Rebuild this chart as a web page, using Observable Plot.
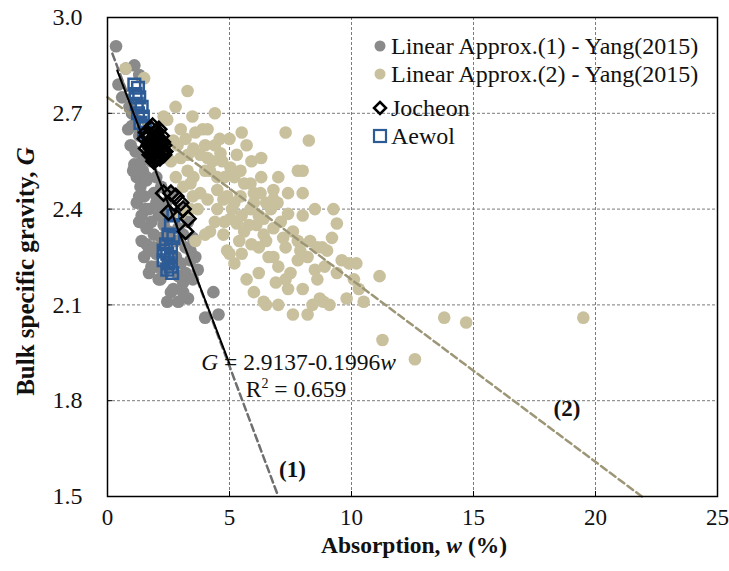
<!DOCTYPE html>
<html>
<head>
<meta charset="utf-8">
<script src="https://cdn.jsdelivr.net/npm/d3@7"></script>
<script src="https://cdn.jsdelivr.net/npm/@observablehq/plot@0.6"></script>
<style>
  body { margin: 0; background: #fff; }
  #wrap { position: relative; width: 729px; height: 571px; font-family: "Liberation Serif", "Times New Roman", serif; }
  #legend { position: absolute; left: 372px; top: 32px; font-size: 24px; color: #111; line-height: 28px; }
  #legend .row { display: flex; align-items: center; height: 28px; }
  #legend svg { margin-right: 3px; }
</style>
</head>
<body>
<div id="wrap"><div id="chart"></div><div id="legend"></div></div>
<script>
// ---- Data ----
const grayX = [0.35,0.75,1.1,1.3,0.45,0.6,0.9,1.0,0.95,0.85,1.3,1.5,1.45,1.35,1.8,2.0,1.2,1.5,1.7,1.9,2.2,2.4,2.6,1.3,1.6,1.9,2.1,2.3,2.7,3.0,3.3,1.4,1.7,2.0,2.3,2.8,3.2,3.5,1.8,2.1,2.5,3.0,3.4,3.7,2.17,3.1,3.1,4.34,2.45,4.0,4.55,2.7,3.3,1.1,1.6,
  1.2,1.4,1.6,1.3,1.55,1.8,2.0,2.2,2.5,1.4,1.6,1.9,2.2,2.5,2.9,3.1,1.7,2.0,2.3,2.8,3.2,3.5,2.9,3.4,1.5,2.6,2.9,3.6,1.0,1.2,1.15,1.05];
const grayY = [2.91,2.84,2.85,2.82,2.79,2.75,2.72,2.66,2.60,2.65,2.63,2.57,2.52,2.47,2.55,2.50,2.42,2.44,2.40,2.45,2.47,2.42,2.45,2.36,2.34,2.32,2.38,2.35,2.38,2.40,2.36,2.30,2.27,2.26,2.29,2.30,2.28,2.31,2.22,2.18,2.22,2.23,2.24,2.21,2.18,2.17,2.14,2.14,2.11,2.06,2.07,2.15,2.12,2.54,2.49,
  2.50,2.55,2.50,2.44,2.40,2.36,2.42,2.40,2.38,2.38,2.29,2.28,2.31,2.33,2.34,2.32,2.20,2.22,2.20,2.25,2.20,2.18,2.19,2.27,2.25,2.14,2.11,2.25,2.70,2.68,2.58,2.52];

const tanX = [0.74,1.5,3.28,2.79,2.3,3.48,3.0,4.1,7.3,8.25,2.7,2.87,3.52,5.7,4.63,4.1,5.3,5.04,5.45,3.28,3.52,4.5,5.86,7.8,8.0,3.4,3.8,4.9,5.45,6.27,6.8,6.97,8.0,4.5,5.04,5.86,6.4,7.4,5.3,6.1,3.0,4.75,4.75,6.0,6.8,6.7,7.1,8.3,9.26,9.4,6.4,5.9,5.2,5.7,6.4,7.4,7.0,7.8,7.9,9.0,8.6,8.7,9.1,9.9,10.1,10.2,10.5,11.15,11.27,12.6,13.8,14.7,19.5,2.45,3.9,4.3,4.8,5.2,5.6,6.2,6.6,7.3,7.6,8.0,8.6,8.9,9.4,7.5,6.9,6.2,5.5,4.4,3.7,4.0,5.9,6.3,4.4,3.8,8.4,8.85,6.5,4.9,3.6,4.0,7.6,
  3.2,3.6,4.0,4.6,5.0,3.3,4.2,4.7,5.2,5.6,6.0,6.5,3.5,4.1,4.5,5.1,5.5,6.2,6.8,4.2,4.8,5.8,6.5,7.2,7.8,8.2,8.5,9.2,9.6,6.8,7.3,8.0,5.4,3.1,3.4,2.6,2.8,3.0,4.4,5.5,6.3,7.0,7.4,8.5,8.8,10.3,9.8,8.2,7.0,6.0,5.0];
const tanY = [2.84,2.81,2.77,2.72,2.69,2.69,2.65,2.65,2.64,2.615,2.615,2.60,2.59,2.60,2.575,2.56,2.57,2.53,2.52,2.52,2.50,2.50,2.48,2.52,2.52,2.48,2.45,2.44,2.44,2.45,2.46,2.42,2.45,2.40,2.37,2.40,2.37,2.385,2.355,2.35,2.385,2.43,2.32,2.45,2.43,2.40,2.36,2.30,2.40,2.355,2.32,2.29,2.23,2.18,2.11,2.15,2.22,2.24,2.27,2.27,2.18,2.12,2.10,2.23,2.18,2.23,2.11,2.19,1.99,1.93,2.06,2.045,2.06,2.68,2.65,2.55,2.50,2.42,2.33,2.28,2.25,2.28,2.33,2.38,2.28,2.22,2.20,2.20,2.17,2.20,2.26,2.36,2.40,2.52,2.55,2.50,2.60,2.57,2.10,2.11,2.10,2.27,2.30,2.32,2.07,
  2.62,2.64,2.60,2.62,2.62,2.57,2.52,2.55,2.50,2.48,2.42,2.42,2.44,2.43,2.46,2.40,2.38,2.38,2.34,2.33,2.36,2.35,2.30,2.31,2.30,2.25,2.21,2.31,2.24,2.25,2.18,2.15,2.30,2.47,2.40,2.55,2.50,2.56,2.70,2.64,2.56,2.50,2.45,2.40,2.28,2.15,2.12,2.07,2.10,2.14,2.26];

const jocheonX = [1.6,1.8,2.0,2.2,1.7,1.9,2.1,2.3,1.8,2.0,2.2,1.9,2.1,2.3,1.7,2.0,2.3,2.6,2.8,3.0,3.1,3.3,2.5,3.2,
  1.55,1.65,1.75,1.85,1.95,2.05,2.15,2.25,1.75,1.85,2.05,2.15,2.25,1.95,2.1,1.85,1.6,2.35,1.9,2.0];
const jocheonY = [2.64,2.65,2.64,2.63,2.61,2.62,2.61,2.60,2.59,2.58,2.58,2.56,2.57,2.57,2.60,2.60,2.45,2.45,2.44,2.42,2.40,2.37,2.39,2.33,
  2.62,2.63,2.63,2.60,2.60,2.62,2.60,2.61,2.57,2.57,2.56,2.56,2.58,2.64,2.65,2.66,2.59,2.58,2.55,2.63];

const aewolX = [1.1,1.25,1.15,1.3,1.2,1.4,1.25,1.45,1.35,1.55,1.5,2.7,2.6,2.5,2.7,2.4,2.6,2.45,2.6,2.3,2.5,2.45,2.6,2.3,2.65];
const aewolY = [2.79,2.78,2.76,2.75,2.73,2.72,2.70,2.69,2.67,2.66,2.64,2.38,2.35,2.32,2.31,2.29,2.28,2.26,2.25,2.27,2.23,2.21,2.22,2.24,2.20];

// fitted / approximation lines: [w, G] end points
const fitLine = [[0.4, 2.9137 - 0.1996 * 0.4], [5.0, 2.9137 - 0.1996 * 5.0]];
const approx1 = [[0.2, 2.887], [7.0, 1.5]];
const approx2 = [[0.0, 2.75], [21.9, 1.5]];

const xTicks = [0, 5, 10, 15, 20, 25];
const yTicks = [1.5, 1.8, 2.1, 2.4, 2.7, 3.0];

const seriesNames = ["Linear Approx.(1) - Yang(2015)", "Linear Approx.(2) - Yang(2015)", "Jocheon", "Aewol"];

// ---- Build ----
const zip = (xs, ys) => xs.map((x, i) => ({x, y: ys[i]}));
const gray = zip(grayX, grayY), tan = zip(tanX, tanY), joc = zip(jocheonX, jocheonY), aew = zip(aewolX, aewolY);
const line = pts => pts.map(([x, y]) => ({x, y}));

const GRAY = "#8a8a8a", TAN = "#c9c19e", BLUE = "#2c5b96";

const plot = Plot.plot({
  width: 729, height: 571,
  marginLeft: 107, marginRight: 12, marginTop: 17, marginBottom: 75,
  style: {fontFamily: "'Liberation Serif', 'Times New Roman', serif", background: "#fff", color: "#111"},
  x: {domain: [0, 25], ticks: xTicks},
  y: {domain: [1.5, 3.0], ticks: yTicks},
  marks: [
    Plot.gridX([5, 10, 15, 20], {stroke: "#7a7a7a", strokeOpacity: 1, strokeDasharray: "3,2", strokeWidth: 1}),
    Plot.gridY([1.8, 2.1, 2.4, 2.7], {stroke: "#7a7a7a", strokeOpacity: 1, strokeDasharray: "3,2", strokeWidth: 1}),
    Plot.dot(gray, {x: "x", y: "y", r: 6.3, fill: GRAY, stroke: null}),
    Plot.dot(tan, {x: "x", y: "y", r: 6.3, fill: TAN, stroke: null}),
    Plot.line(line(approx2), {x: "x", y: "y", stroke: "#9d9676", strokeWidth: 2.5, strokeDasharray: "7,4"}),
    Plot.line(line(approx1), {x: "x", y: "y", stroke: "#6f6f6f", strokeWidth: 2.5, strokeDasharray: "7,4"}),
    Plot.dot(aew, {x: "x", y: "y", symbol: "square2", r: 7.4, stroke: BLUE, strokeWidth: 2.5, fill: "none"}),
    Plot.dot(joc, {x: "x", y: "y", symbol: "diamond2", r: 6.8, stroke: "#000", strokeWidth: 2.5, fill: "none"}),
    Plot.line(line(fitLine), {x: "x", y: "y", stroke: "#000", strokeWidth: 2}),
    Plot.frame({stroke: "#000", strokeWidth: 1.5}),
    Plot.axisX({ticks: xTicks, tickSize: 0, tickPadding: 12, fontSize: 23, label: null}),
    Plot.axisY({ticks: yTicks, tickSize: 0, tickPadding: 25, fontSize: 24, label: null, tickFormat: d3.format(".1f")}),
    Plot.axisX({ticks: xTicks, tickSize: -5, text: null, label: null, stroke: "#000"}),
    Plot.axisY({ticks: yTicks, tickSize: -5, text: null, label: null, stroke: "#000"})
  ]
});
document.getElementById("chart").appendChild(plot);

const sx = plot.scale("x"), sy = plot.scale("y");
const svg = d3.select(plot);

// axis titles
const xt = svg.append("text").attr("x", (sx.apply(0) + sx.apply(25)) / 2 + 2).attr("y", 553)
  .attr("text-anchor", "middle").attr("font-size", 23.5).attr("font-weight", "bold");
xt.append("tspan").text("Absorption, ");
xt.append("tspan").attr("font-style", "italic").text("w");
xt.append("tspan").text(" (%)");
const yt = svg.append("text").attr("transform", `translate(34,${(sy.apply(1.5) + sy.apply(3.0)) / 2 + 15}) rotate(-90)`)
  .attr("text-anchor", "middle").attr("font-size", 25).attr("font-weight", "bold");
yt.append("tspan").text("Bulk specific gravity, ");
yt.append("tspan").attr("font-style", "italic").text("G");

// annotations
const eq = svg.append("text").attr("x", sx.apply(7.85)).attr("y", sy.apply(1.894)).attr("text-anchor", "middle").attr("font-size", 23.5);
eq.append("tspan").attr("font-style", "italic").text("G");
eq.append("tspan").text(" = 2.9137-0.1996");
eq.append("tspan").attr("font-style", "italic").text("w");
const r2 = svg.append("text").attr("x", sx.apply(7.75)).attr("y", sy.apply(1.81)).attr("text-anchor", "middle").attr("font-size", 23.5);
r2.append("tspan").text("R");
r2.append("tspan").attr("font-size", 14).attr("dy", -9).text("2");
r2.append("tspan").attr("dy", 9).text(" = 0.659");
svg.append("text").attr("x", sx.apply(7.6)).attr("y", sy.apply(1.56)).attr("text-anchor", "middle").attr("font-size", 23).attr("font-weight", "bold").text("(1)");
svg.append("text").attr("x", sx.apply(18.85)).attr("y", sy.apply(1.75)).attr("text-anchor", "middle").attr("font-size", 23).attr("font-weight", "bold").text("(2)");

// legend
const markers = [
  `<circle cx="8" cy="10" r="5.5" fill="${GRAY}"/>`,
  `<circle cx="8" cy="10" r="5.5" fill="${TAN}"/>`,
  `<path d="M8,4L14,10L8,16L2,10Z" fill="none" stroke="#000" stroke-width="2.5"/>`,
  `<rect x="2" y="4" width="12" height="12" fill="none" stroke="${BLUE}" stroke-width="2.2"/>`
];
const leg = document.getElementById("legend");
seriesNames.forEach((name, i) => {
  const row = document.createElement("div");
  row.className = "row";
  if (i === 2) row.style.marginTop = "6px";
  row.innerHTML = `<svg width="16" height="20">${markers[i]}</svg><span>${name}</span>`;
  leg.appendChild(row);
});
</script>
</body>
</html>
